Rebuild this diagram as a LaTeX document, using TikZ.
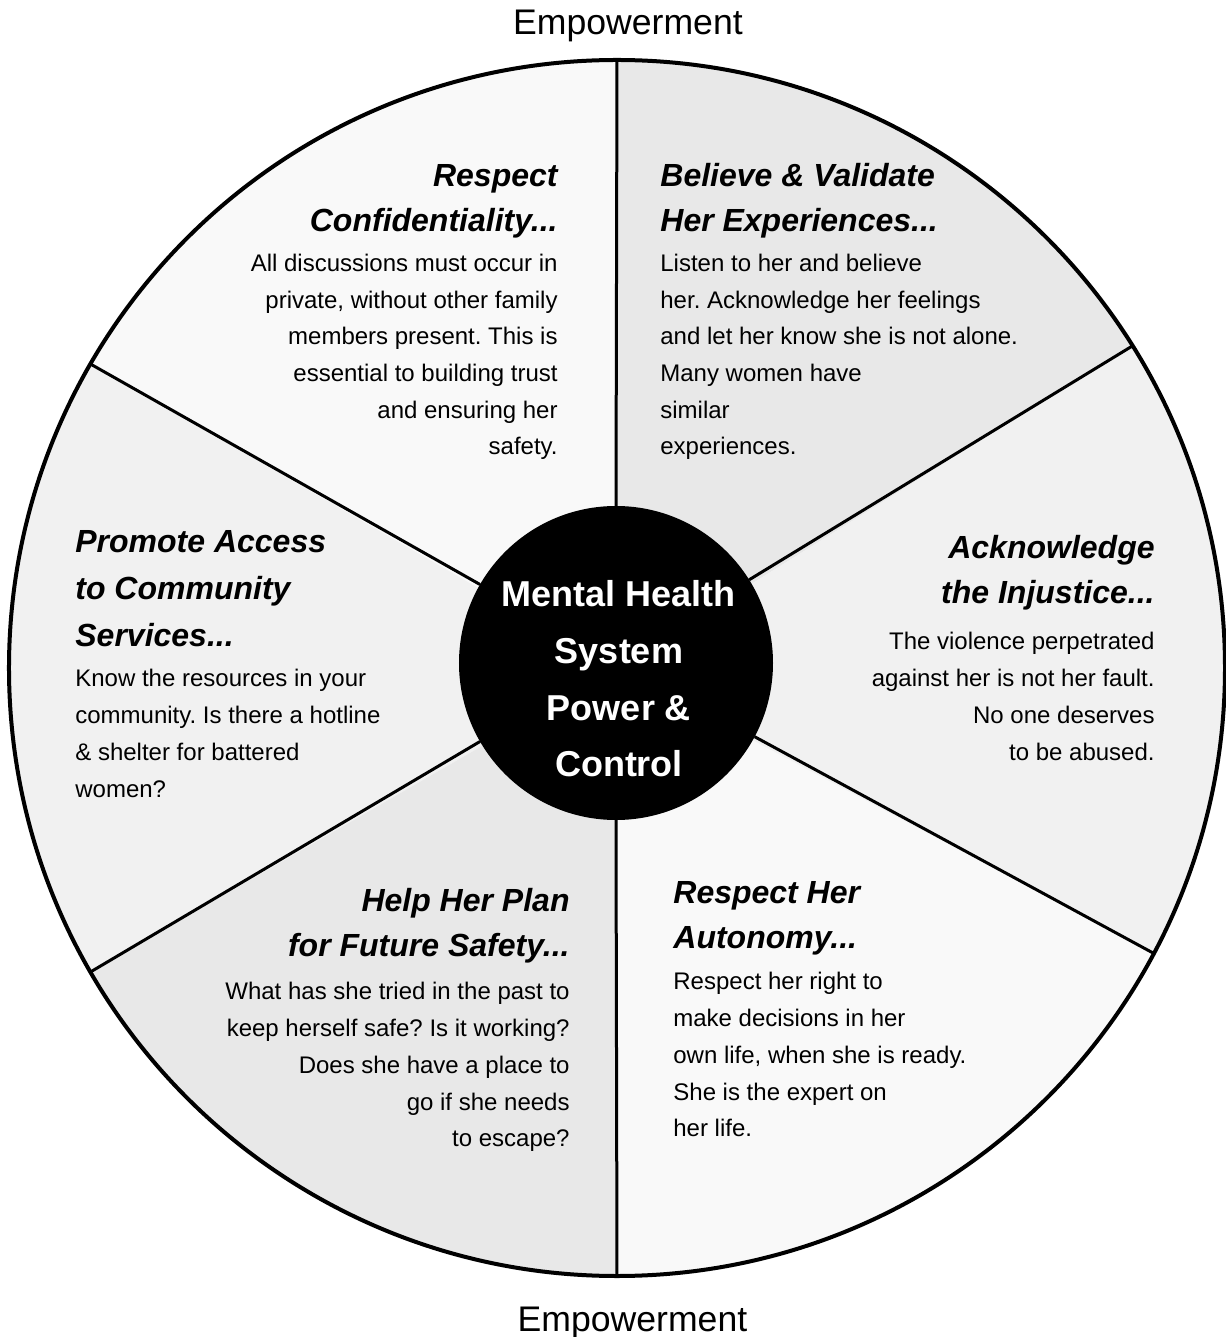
\documentclass[tikz,border=0pt]{standalone}
\usepackage{fontspec}
\setmainfont{Liberation Sans}
\frenchspacing

\definecolor{wedgegrey}{gray}{0.91}
\definecolor{wedgelight}{gray}{0.945}
\definecolor{wedgewhite}{gray}{0.975}

\tikzset{
  wedgehead/.style={font=\fontsize{16}{22.5}\selectfont\bfseries\itshape, inner sep=0pt},
  wedgetext/.style={font=\fontsize{12}{18.35}\selectfont, inner sep=0pt},
  spoke/.style={line width=1.5pt},
  empw/.style={font=\fontsize{17.8}{20}\selectfont, inner sep=0pt}
}

\begin{document}
\begin{tikzpicture}[x=0.5pt,y=0.5pt]

      \useasboundingbox (-617,-669) rectangle (608,668);

      % wedges
      \fill[wedgewhite] (0,0) -- (90:608) arc[start angle=90, end angle=150, radius=608] -- cycle;
      \fill[wedgegrey]  (0,0) -- (32:608) arc[start angle=32, end angle=90, radius=608] -- cycle;
      \fill[wedgelight] (0,0) -- (150:608) arc[start angle=150, end angle=210, radius=608] -- cycle;
      \fill[wedgegrey]  (0,0) -- (210:608) arc[start angle=210, end angle=270, radius=608] -- cycle;
      \fill[wedgewhite] (0,0) -- (270:608) arc[start angle=270, end angle=332, radius=608] -- cycle;
      \fill[wedgelight] (0,0) -- (332:608) arc[start angle=-28, end angle=32, radius=608] -- cycle;

      \node[circle, draw, line width=2pt, minimum size=608pt, inner sep=0pt, outer sep=0pt] (rim) at (0,0) {};
      \node[circle, fill=black, minimum size=157pt, inner sep=0pt, outer sep=0pt] (hub) at (-1,5) {};

      \foreach \a in {90,32,-28,-90,-150,150}
        \draw[spoke] (hub.\a) -- (rim.\a);

      % last line baselines are given
      \node[anchor=base, align=center, text=white, inner sep=0pt,
            font=\fontsize{18}{28.3}\selectfont\bfseries] (hubtext) at (2,-108.7)
        {Mental Health\\System\\Power \&\\Control};

      \node[empw, anchor=base] (toplabel) at (11,633) {Empowerment};
      \node[empw, anchor=base] (botlabel) at (15.5,-663.7) {Empowerment};

      % Respect Confidentiality
      \node[wedgehead, align=right, anchor=base east] (confhead) at (-59,436)
        {Respect\\Confidentiality...};
      \node[wedgetext, align=right, anchor=base east] (conftext) at (-59,213)
        {All discussions must occur in\\private, without other family\\members present. This is\\essential to building trust\\and ensuring her\\safety.};

      % Believe & Validate
      \node[wedgehead, align=left, anchor=base west] (belhead) at (43,436)
        {Believe \& Validate\\Her Experiences...};
      \node[wedgetext, align=left, anchor=base west] (beltext) at (43,213)
        {Listen to her and believe\\her. Acknowledge her feelings\\and let her know she is not alone.\\Many women have\\similar\\experiences.};

      % Promote Access
      \node[wedgehead, align=left, anchor=base west, font=\fontsize{16}{23.5}\selectfont\bfseries\itshape] (prohead) at (-542,21.3)
        {Promote Access\\to Community\\Services...};
      \node[wedgetext, align=left, anchor=base west] (protext) at (-542,-129)
        {Know the resources in your\\community. Is there a hotline\\\& shelter for battered\\women?};

      % Acknowledge the Injustice
      \node[wedgehead, align=right, anchor=base east] (ackhead) at (538,64.7)
        {Acknowledge\\the Injustice...};
      \node[wedgetext, align=right, anchor=base east] (acktext) at (538,-92)
        {The violence perpetrated\\against her is not her fault.\\No one deserves\\to be abused.};

      % Help Her Plan
      \node[wedgehead, align=right, anchor=base east] (planhead) at (-47,-288.7)
        {Help Her Plan\\for Future Safety...};
      \node[wedgetext, align=right, anchor=base east] (plantext) at (-47,-478.7)
        {What has she tried in the past to\\keep herself safe? Is it working?\\Does she have a place to\\go if she needs\\to escape?};

      % Respect Her Autonomy
      \node[wedgehead, align=left, anchor=base west] (autohead) at (56,-280.3)
        {Respect Her\\Autonomy...};
      \node[wedgetext, align=left, anchor=base west] (autotext) at (56,-468.7)
        {Respect her right to\\make decisions in her\\own life, when she is ready.\\She is the expert on\\her life.};

\end{tikzpicture}
\end{document}
